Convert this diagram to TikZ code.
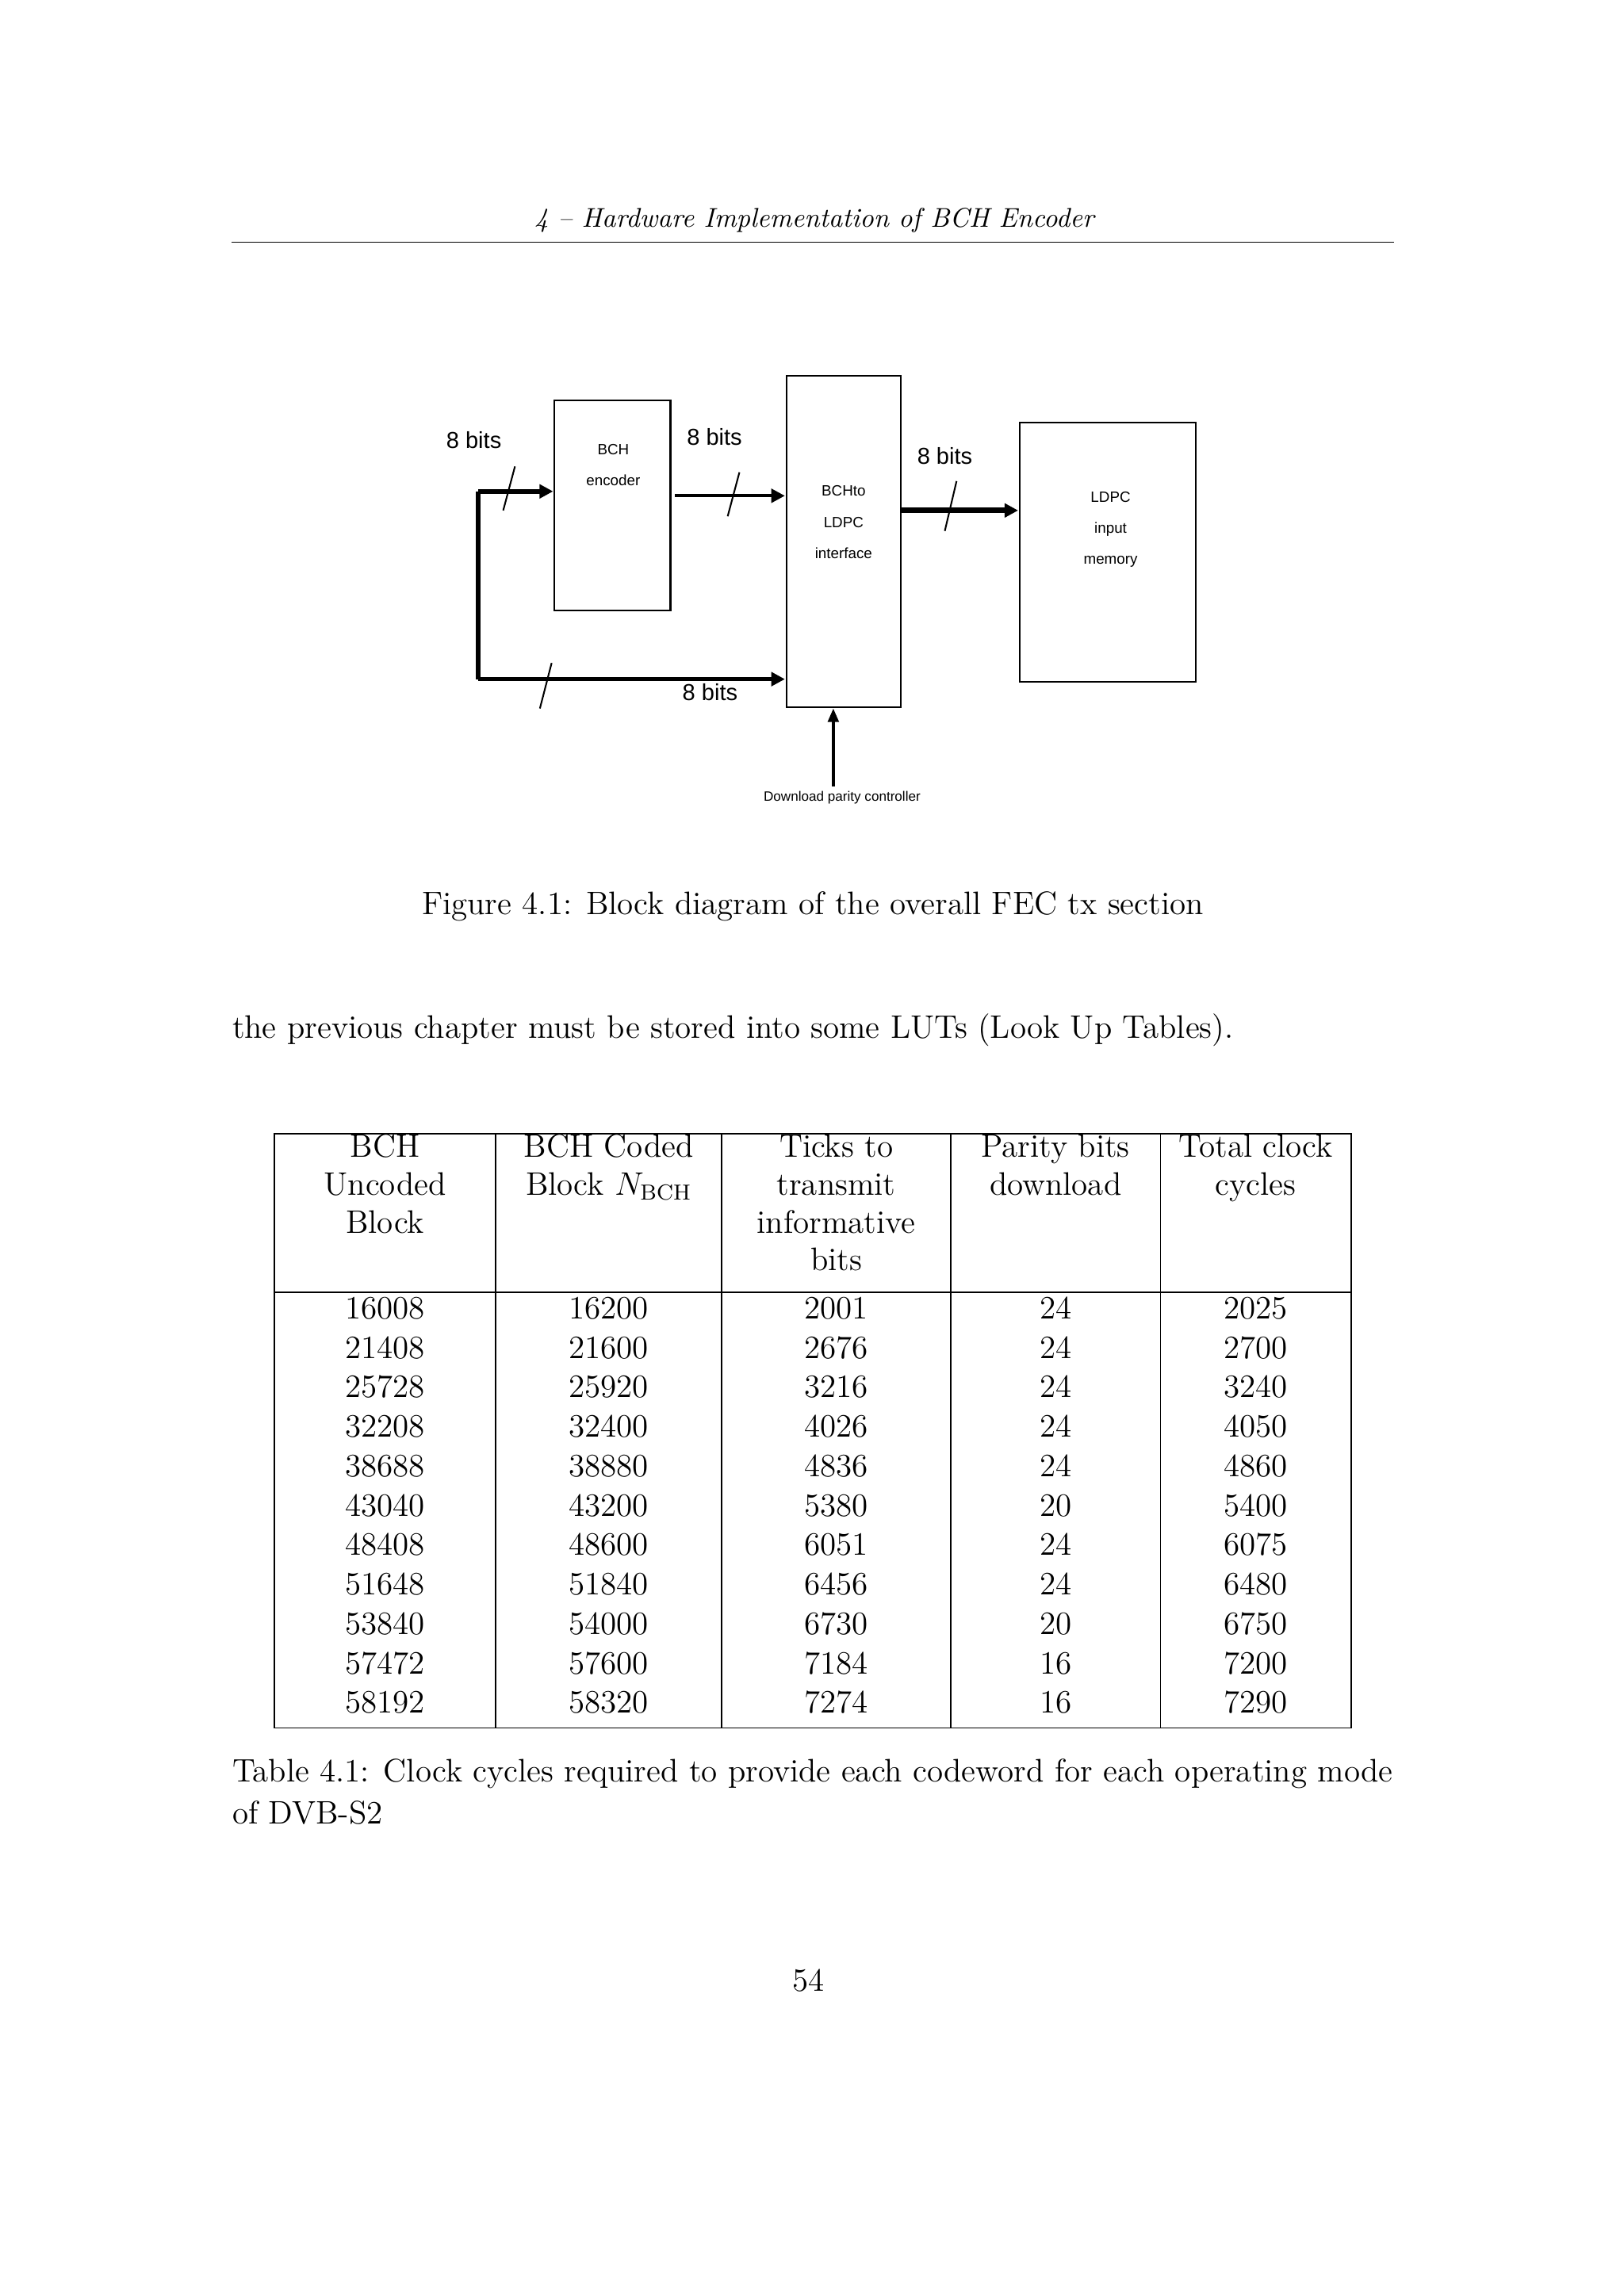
\documentclass[tikz,border=0pt]{standalone}
\usepackage{fontspec}
\newfontfamily\dsans{Liberation Sans}
\usetikzlibrary{arrows.meta}
\begin{document}
\begin{tikzpicture}[x=0.541pt,y=-0.541pt,
  txt/.style={inner sep=0pt,font=\fontsize{12}{14}\selectfont},
  lbl/.style={inner sep=0pt,font=\dsans\fontsize{8.5}{10}\selectfont},
  btx/.style={inner sep=0pt,font=\dsans\fontsize{5.5}{11.5}\selectfont,align=center},
  blk/.style={draw,line width=0.6pt},
  bus/.style={line width=1.6pt,-{Triangle[length=5pt,width=5pt]}},
  sl/.style={line width=0.6pt},
  num/.style={inner sep=0pt,font=\fontsize{12}{14}\selectfont,anchor=base}]
\useasboundingbox (0,0) rectangle (1106.6,1565.3);
% header
\node[txt,font=\fontsize{10}{12}\selectfont\itshape] (hd) at (555,150) {4 -- Hardware Implementation of BCH Encoder};
\draw[line width=0.4pt] (158,165) -- (950,165);
% blocks
\draw[blk] (378,273) rectangle (457,416);
\draw[blk] (536,256) rectangle (614,482);
\draw[blk] (695,288) rectangle (815,465);
\node[btx] (enc) at (418,317) {BCH\\encoder};
\node[btx] (ifc) at (575,356) {BCHto\\LDPC\\interface};
\node[btx] (mem) at (757,361) {LDPC\\input\\memory};
\coordinate (a0) at (326,335); \coordinate (a1) at (377,335);
\coordinate (b0) at (326,463); \coordinate (b1) at (535,463);
\coordinate (c0) at (460,338); \coordinate (c1) at (535,338);
\coordinate (d0) at (614,348); \coordinate (d1) at (694,348);
\coordinate (e0) at (568,536); \coordinate (e1) at (568,483);
\draw[line width=1.6pt] (a0) -- (b0);
\draw[bus] (a0) -- (a1);
\draw[bus] (b0) -- (b1);
\draw[bus,line width=1.2pt] (c0) -- (c1);
\draw[bus,line width=2pt] (d0) -- (d1);
\draw[line width=1pt,-{Triangle[length=5pt,width=4pt]}] (e0) -- (e1);
\draw[sl] (343,348) -- (351,318);
\draw[sl] (496,352) -- (504,322);
\draw[sl] (644,362) -- (652,328);
\draw[sl] (368,483) -- (376,452);
\node[lbl] (l1) at (323,300) {8 bits};
\node[lbl] (l2) at (487,298) {8 bits};
\node[lbl] (l3) at (644,311) {8 bits};
\node[lbl] (l4) at (484,472) {8 bits};
\node[inner sep=0pt,font=\dsans\fontsize{5}{6}\selectfont] (dl) at (574,544) {Download parity controller};
% caption
\node[txt] (cap) at (554,618) {Figure 4.1: Block diagram of the overall FEC tx section};
\node[txt,anchor=west] (par) at (158,702) {the previous chapter must be stored into some LUTs (Look Up Tables).};
% table
\draw[line width=0.5pt] (187,773) rectangle (921,1178);
\draw[line width=0.5pt] (187,881) -- (921,881);
\foreach \x in {338,492,648,791} \draw[line width=0.5pt] (\x,773) -- (\x,1178);
\node[txt,align=center,anchor=north] (h1) at (262.5,773) {BCH\\Uncoded\\Block};
\node[txt,align=center,anchor=north] (h2) at (415,773) {BCH Coded\\Block $N_{\mathrm{BCH}}$};
\node[txt,align=center,anchor=north] (h3) at (570,773) {Ticks to\\transmit\\informative\\bits};
\node[txt,align=center,anchor=north] (h4) at (719.5,773) {Parity bits\\download};
\node[txt,align=center,anchor=north] (h5) at (856,773) {Total clock\\cycles};
\foreach \a/\b/\c/\d/\e [count=\i from 0] in {
16008/16200/2001/24/2025,21408/21600/2676/24/2700,25728/25920/3216/24/3240,
32208/32400/4026/24/4050,38688/38880/4836/24/4860,43040/43200/5380/20/5400,
48408/48600/6051/24/6075,51648/51840/6456/24/6480,53840/54000/6730/20/6750,
57472/57600/7184/16/7200,58192/58320/7274/16/7290}{
  \pgfmathsetmacro\yy{899+26.9*\i}
  \node[num] at (262.5,\yy) {\a};
  \node[num] at (415,\yy) {\b};
  \node[num] at (570,\yy) {\c};
  \node[num] at (719.5,\yy) {\d};
  \node[num] at (856,\yy) {\e};
}
\node[txt,anchor=west] (tc1) at (158,1209) {Table 4.1: Clock cycles required to provide each codeword for each operating mode};
\node[txt,anchor=west] (tc2) at (158,1236) {of DVB-S2};
\node[txt] (pg) at (551,1350) {54};
\end{tikzpicture}
\end{document}
